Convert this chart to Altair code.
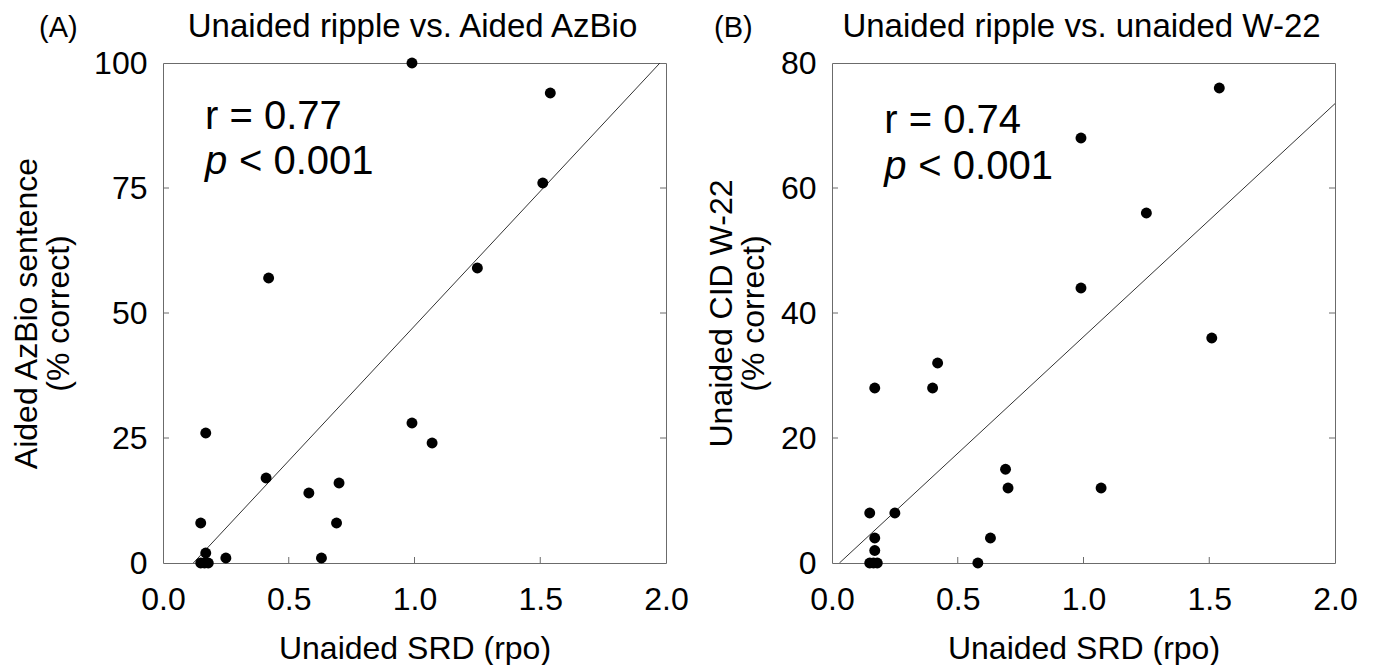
import altair as alt
import pandas as pd

# ---------------- data ----------------
# Panel A: Unaided SRD (rpo) vs Aided AzBio sentence (% correct)
a_srd = [0.99, 1.54, 1.51, 1.25, 0.42, 0.17, 0.99, 1.07, 0.41, 0.70,
         0.58, 0.69, 0.15, 0.17, 0.25, 0.63, 0.15, 0.165, 0.18]
a_score = [100, 94, 76, 59, 57, 26, 28, 24, 17, 16,
           14, 8, 8, 2, 1, 1, 0, 0, 0]
a_fit = {"slope": 53.9, "intercept": -6.5}

# Panel B: Unaided SRD (rpo) vs Unaided CID W-22 (% correct)
b_srd = [1.54, 0.99, 1.25, 0.99, 1.51, 0.42, 0.40, 0.17, 0.69, 0.70,
         1.07, 0.15, 0.25, 0.17, 0.63, 0.17, 0.15, 0.165, 0.18, 0.58]
b_score = [76, 68, 56, 44, 36, 32, 28, 28, 15, 12,
           12, 8, 8, 4, 4, 2, 0, 0, 0, 0]
b_fit = {"slope": 37.3, "intercept": -1.1}

x_ticks = [0.0, 0.5, 1.0, 1.5, 2.0]
a_yticks = [0, 25, 50, 75, 100]
b_yticks = [0, 20, 40, 60, 80]

FONT = "Liberation Sans"
W, H = 503, 500
TICK = 6
FRAME = "#6b6b6b"


def panel(letter, title, ytitle, srd, score, fit, yticks, ymax,
          stat_r, ann_x, ann_y1, ann_y2, title_pad, letter_x):
    pts = pd.DataFrame({"srd": srd, "score": score})
    m, b = fit["slope"], fit["intercept"]
    x0 = max(0.0, -b / m)
    x1 = min(2.0, (ymax - b) / m)
    line = pd.DataFrame({"srd": [x0, x1], "score": [m * x0 + b, m * x1 + b]})

    xsc = alt.Scale(domain=[0, 2], nice=False, zero=False)
    ysc = alt.Scale(domain=[0, ymax], nice=False, zero=False)

    xaxis = alt.Axis(values=x_ticks, format=".1f", ticks=False, domain=False,
                     grid=False, labelFontSize=32, labelPadding=21,
                     labelFlush=False, labelColor="black",
                     title="Unaided SRD (rpo)",
                     titleFontSize=32, titleFontWeight="normal",
                     titleColor="black", titlePadding=18, labelFont=FONT,
                     titleFont=FONT)
    yaxis = alt.Axis(values=yticks, format="d", ticks=False, domain=False,
                     grid=False, labelFontSize=32, labelPadding=16,
                     labelFlush=False, labelColor="black", title=ytitle,
                     titleFontSize=32, titleFontWeight="normal",
                     titleColor="black", titlePadding=title_pad,
                     titleLineHeight=32, labelFont=FONT, titleFont=FONT)

    base_pts = alt.Chart(pts).mark_circle(size=120, color="black", opacity=1).encode(
        x=alt.X("srd:Q", scale=xsc, axis=xaxis),
        y=alt.Y("score:Q", scale=ysc, axis=yaxis),
    )
    reg = alt.Chart(line).mark_line(color="#333333", strokeWidth=1, clip=True).encode(
        x=alt.X("srd:Q", scale=xsc),
        y=alt.Y("score:Q", scale=ysc),
    )

    inner_y = [v for v in yticks if 0 < v < ymax]
    inner_x = [v for v in x_ticks if 0 < v < 2]
    bt = alt.Chart(pd.DataFrame({"v": inner_x})).mark_rule(color=FRAME, strokeWidth=1).encode(
        x=alt.X("v:Q", scale=xsc), y=alt.value(H), y2=alt.value(H - TICK))
    lt = alt.Chart(pd.DataFrame({"v": inner_y})).mark_rule(color=FRAME, strokeWidth=1).encode(
        y=alt.Y("v:Q", scale=ysc), x=alt.value(0), x2=alt.value(TICK))
    rt = alt.Chart(pd.DataFrame({"v": inner_y})).mark_rule(color=FRAME, strokeWidth=1).encode(
        y=alt.Y("v:Q", scale=ysc), x=alt.value(W), x2=alt.value(W - TICK))

    ann = pd.DataFrame({"x": [ann_x], "y1": [ann_y1], "y2": [ann_y2],
                        "r": [f"r = {stat_r}"], "p": ["p"], "rest": ["< 0.001"]})
    t_r = alt.Chart(ann).mark_text(align="left", baseline="alphabetic",
                                   fontSize=40, font=FONT, color="black").encode(
        x=alt.X("x:Q", scale=xsc), y=alt.Y("y1:Q", scale=ysc), text="r:N")
    t_p = alt.Chart(ann).mark_text(align="left", baseline="alphabetic",
                                   fontSize=40, font=FONT, fontStyle="italic",
                                   color="black").encode(
        x=alt.X("x:Q", scale=xsc), y=alt.Y("y2:Q", scale=ysc), text="p:N")
    t_rest = alt.Chart(ann).mark_text(align="left", baseline="alphabetic",
                                      fontSize=40, font=FONT, dx=34,
                                      color="black").encode(
        x=alt.X("x:Q", scale=xsc), y=alt.Y("y2:Q", scale=ysc), text="rest:N")

    heads = pd.DataFrame({"letter": [letter], "title": [title]})
    lab = alt.Chart(heads).mark_text(
        align="left", baseline="alphabetic", fontSize=29, font=FONT,
        color="black").encode(x=alt.value(letter_x), y=alt.value(-26), text="letter:N")
    ttl = alt.Chart(heads).mark_text(
        align="center", baseline="alphabetic", fontSize=33, font=FONT,
        color="black").encode(x=alt.value(W / 2 - 2), y=alt.value(-26), text="title:N")

    return alt.layer(reg, base_pts, bt, lt, rt, t_r, t_p, t_rest, lab, ttl).properties(
        width=W, height=H,
    )


pa = panel("(A)", "Unaided ripple vs. Aided AzBio",
           ["Aided AzBio sentence", "(% correct)"],
           a_srd, a_score, a_fit, a_yticks, 100, "0.77",
           0.167, 86.9, 77.8, 18, -124)
pb = panel("(B)", "Unaided ripple vs. unaided W-22",
           ["Unaided CID W-22", "(% correct)"],
           b_srd, b_score, b_fit, b_yticks, 80, "0.74",
           0.208, 68.8, 61.5, 10, -118)

chart = alt.hconcat(pa, pb, spacing=15).configure(
    font=FONT
).configure_view(
    stroke=FRAME, strokeWidth=1
).properties(padding={"left": 2, "top": 2, "right": 0, "bottom": 0})

chart.save("out.html", embed_options={"renderer": "svg", "actions": False})
